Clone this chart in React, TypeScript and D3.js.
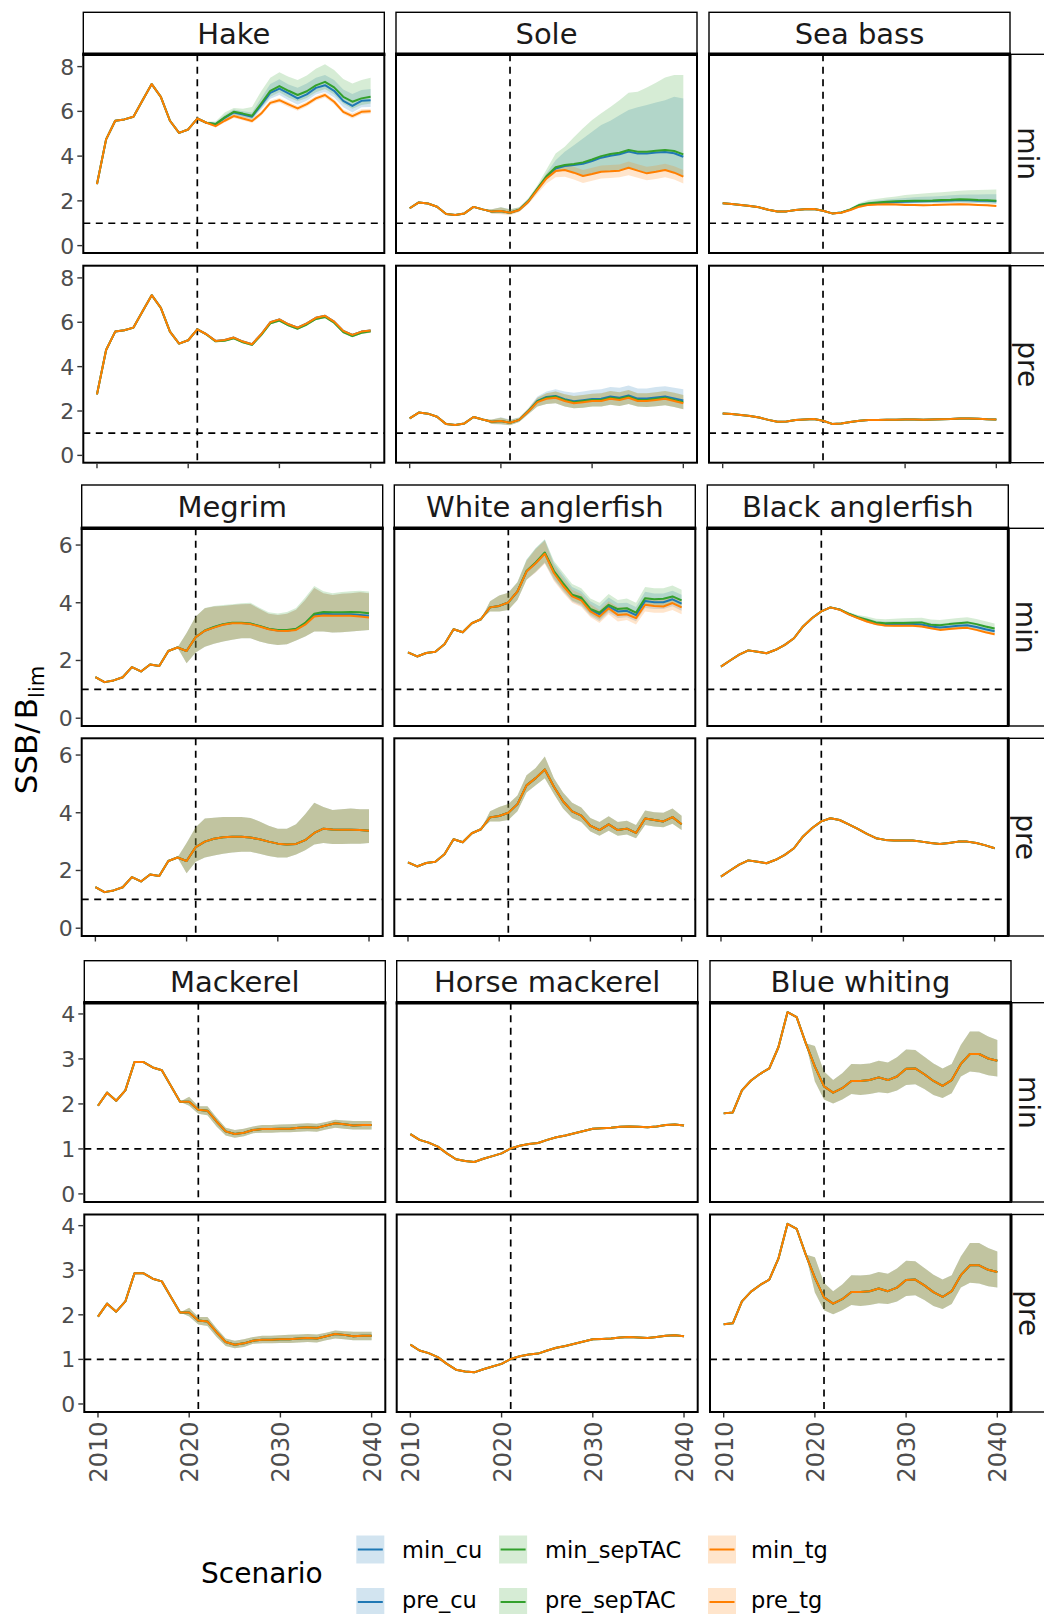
import React from "react";
import * as d3 from "d3";

// ---------------- data ----------------
const X_TICKS = [2010, 2020, 2030, 2040];
const VLINE_YEAR = 2021;
const HLINE_VALUE = 1;
const SCENARIOS = ["cu", "sepTAC", "tg"];
const SCEN_COLORS = ["#1F78B4", "#33A02C", "#FF7F00"];
const ROW_LABELS = ["min", "pre"];
const LEGEND_LABELS = [
  ["min_cu", "min_sepTAC", "min_tg"],
  ["pre_cu", "pre_sepTAC", "pre_tg"],
];

// Hake (hist 2010-2020, projections 2021-2040)
const hakeHist = [2.75, 4.75, 5.58, 5.64, 5.76, 6.5, 7.22, 6.65, 5.58, 5.04, 5.19];
const hakeMinTgMed = [5.68, 5.49, 5.34, 5.58, 5.79, 5.68, 5.57, 5.9, 6.38, 6.5, 6.31, 6.13, 6.32, 6.58, 6.73, 6.43, 5.98, 5.79, 5.98, 6.01];
const hakeMinTgLo = [5.68, 5.45, 5.28, 5.5, 5.7, 5.6, 5.48, 5.8, 6.28, 6.4, 6.2, 6.03, 6.22, 6.47, 6.62, 6.32, 5.88, 5.68, 5.87, 5.9];
const hakeMinTgHi = [5.68, 5.53, 5.4, 5.66, 5.88, 5.77, 5.66, 6.0, 6.48, 6.6, 6.42, 6.24, 6.43, 6.69, 6.84, 6.54, 6.08, 5.9, 6.09, 6.12];
const hakeMinSepMed = [5.68, 5.49, 5.43, 5.73, 5.98, 5.9, 5.8, 6.35, 6.92, 7.13, 6.92, 6.73, 6.9, 7.16, 7.32, 7.07, 6.65, 6.43, 6.58, 6.65];
const hakeMinSepLo = [5.68, 5.45, 5.36, 5.62, 5.85, 5.76, 5.66, 6.15, 6.65, 6.85, 6.62, 6.45, 6.6, 6.85, 7.0, 6.75, 6.35, 6.12, 6.28, 6.35];
const hakeMinSepHi = [5.68, 5.55, 5.55, 5.95, 6.15, 6.12, 6.2, 6.9, 7.5, 7.75, 7.55, 7.4, 7.6, 7.9, 8.1, 7.85, 7.45, 7.25, 7.4, 7.5];
const hakeMinCuMed = [5.68, 5.49, 5.42, 5.71, 5.95, 5.86, 5.76, 6.28, 6.83, 7.02, 6.8, 6.58, 6.76, 7.05, 7.17, 6.92, 6.47, 6.24, 6.47, 6.5];
const hakeMinCuLo = [5.68, 5.45, 5.35, 5.6, 5.83, 5.72, 5.62, 6.08, 6.56, 6.73, 6.5, 6.3, 6.47, 6.75, 6.87, 6.62, 6.18, 5.95, 6.18, 6.2];
const hakeMinCuHi = [5.68, 5.53, 5.5, 5.84, 6.08, 6.0, 5.95, 6.6, 7.22, 7.43, 7.2, 7.05, 7.25, 7.5, 7.62, 7.4, 6.98, 6.78, 6.95, 7.0];
const hakePreTgMed = [5.68, 5.46, 5.16, 5.2, 5.31, 5.13, 5.01, 5.46, 6.0, 6.13, 5.91, 5.76, 5.95, 6.2, 6.29, 6.03, 5.61, 5.43, 5.58, 5.63];
const hakePreSepMed = [5.68, 5.45, 5.14, 5.17, 5.28, 5.1, 4.98, 5.42, 5.95, 6.08, 5.86, 5.71, 5.9, 6.15, 6.24, 5.98, 5.56, 5.38, 5.53, 5.59];
const hakePreLo = [5.68, 5.42, 5.1, 5.13, 5.23, 5.05, 4.93, 5.37, 5.9, 6.03, 5.81, 5.66, 5.85, 6.1, 6.19, 5.93, 5.51, 5.33, 5.48, 5.53];
const hakePreHi = [5.68, 5.5, 5.2, 5.24, 5.35, 5.17, 5.05, 5.5, 6.04, 6.17, 5.95, 5.8, 5.99, 6.24, 6.33, 6.07, 5.65, 5.47, 5.62, 5.67];

// Sole (hist 2010-2017, projections 2018-2040)
const soleHist = [1.67, 1.93, 1.88, 1.74, 1.41, 1.37, 1.44, 1.73];
const soleMinTgMed = [1.62, 1.52, 1.55, 1.47, 1.59, 1.96, 2.49, 3.0, 3.33, 3.38, 3.26, 3.11, 3.2, 3.3, 3.32, 3.35, 3.48, 3.35, 3.23, 3.3, 3.38, 3.26, 3.08];
const soleMinTgLo = [1.62, 1.42, 1.4, 1.36, 1.5, 1.85, 2.32, 2.78, 3.05, 3.08, 2.96, 2.8, 2.9, 3.0, 3.02, 3.05, 3.15, 3.03, 2.92, 2.98, 3.05, 2.95, 2.78];
const soleMinTgHi = [1.62, 1.62, 1.7, 1.6, 1.7, 2.06, 2.65, 3.2, 3.55, 3.62, 3.52, 3.38, 3.48, 3.58, 3.6, 3.63, 3.76, 3.64, 3.52, 3.58, 3.66, 3.55, 3.38];
const soleMinSepMed = [1.62, 1.52, 1.55, 1.47, 1.6, 1.98, 2.55, 3.1, 3.5, 3.6, 3.65, 3.72, 3.85, 4.0, 4.09, 4.15, 4.27, 4.2, 4.2, 4.24, 4.27, 4.23, 4.08];
const soleMinSepLo = [1.62, 1.45, 1.45, 1.4, 1.52, 1.88, 2.42, 2.95, 3.3, 3.38, 3.28, 3.14, 3.22, 3.32, 3.35, 3.38, 3.5, 3.38, 3.26, 3.32, 3.4, 3.28, 3.1];
const soleMinSepHi = [1.62, 1.62, 1.72, 1.62, 1.72, 2.12, 2.7, 3.4, 4.12, 4.42, 4.84, 5.24, 5.61, 5.91, 6.2, 6.5, 6.83, 6.88, 7.07, 7.28, 7.51, 7.62, 7.62];
const soleMinCuMed = [1.62, 1.52, 1.55, 1.47, 1.6, 1.97, 2.53, 3.07, 3.45, 3.56, 3.6, 3.66, 3.78, 3.93, 4.02, 4.08, 4.2, 4.12, 4.12, 4.16, 4.18, 4.13, 3.97];
const soleMinCuLo = [1.62, 1.45, 1.45, 1.4, 1.52, 1.88, 2.4, 2.93, 3.28, 3.36, 3.26, 3.12, 3.2, 3.3, 3.33, 3.36, 3.48, 3.36, 3.24, 3.3, 3.38, 3.26, 3.08];
const soleMinCuHi = [1.62, 1.62, 1.72, 1.62, 1.7, 2.1, 2.62, 3.23, 3.82, 4.2, 4.49, 4.79, 5.09, 5.39, 5.58, 5.83, 6.06, 6.18, 6.28, 6.4, 6.5, 6.65, 6.58];
const solePreTgMed = [1.62, 1.52, 1.55, 1.47, 1.6, 1.98, 2.4, 2.55, 2.6, 2.45, 2.35, 2.4, 2.45, 2.45, 2.55, 2.5, 2.6, 2.45, 2.45, 2.5, 2.55, 2.45, 2.35];
const solePreSepMed = [1.62, 1.52, 1.55, 1.47, 1.6, 1.99, 2.43, 2.6, 2.65, 2.5, 2.4, 2.45, 2.5, 2.5, 2.6, 2.55, 2.65, 2.5, 2.5, 2.55, 2.6, 2.5, 2.4];
const solePreCuMed = [1.62, 1.52, 1.55, 1.47, 1.6, 1.99, 2.45, 2.63, 2.68, 2.53, 2.44, 2.49, 2.54, 2.55, 2.65, 2.6, 2.7, 2.56, 2.56, 2.61, 2.66, 2.57, 2.47];
const solePreLo = [1.62, 1.42, 1.4, 1.36, 1.5, 1.85, 2.2, 2.32, 2.35, 2.2, 2.12, 2.15, 2.2, 2.2, 2.28, 2.23, 2.32, 2.2, 2.18, 2.22, 2.26, 2.18, 2.08];
const solePreHi = [1.62, 1.62, 1.7, 1.6, 1.7, 2.1, 2.6, 2.8, 2.88, 2.75, 2.68, 2.72, 2.78, 2.8, 2.9, 2.85, 2.95, 2.8, 2.8, 2.85, 2.9, 2.82, 2.72];
const solePreCuHi = [1.62, 1.62, 1.72, 1.62, 1.72, 2.12, 2.65, 2.88, 2.98, 2.88, 2.82, 2.88, 2.95, 2.98, 3.08, 3.05, 3.15, 3.02, 3.02, 3.08, 3.12, 3.05, 2.98];

// Sea bass (hist 2010-2020, projections 2021-2040)
const seabassHist = [1.89, 1.86, 1.82, 1.77, 1.71, 1.6, 1.52, 1.53, 1.59, 1.62, 1.64];
const seabassMinTgMed = [1.56, 1.44, 1.47, 1.59, 1.74, 1.82, 1.84, 1.85, 1.84, 1.82, 1.81, 1.8, 1.81, 1.83, 1.84, 1.85, 1.84, 1.82, 1.8, 1.77];
const seabassMinTgLo = [1.56, 1.42, 1.45, 1.56, 1.7, 1.78, 1.8, 1.81, 1.8, 1.78, 1.77, 1.76, 1.77, 1.79, 1.8, 1.81, 1.8, 1.78, 1.76, 1.73];
const seabassMinTgHi = [1.56, 1.46, 1.5, 1.62, 1.78, 1.87, 1.89, 1.9, 1.89, 1.87, 1.86, 1.85, 1.86, 1.88, 1.89, 1.9, 1.89, 1.87, 1.85, 1.82];
const seabassMinSepMed = [1.56, 1.44, 1.48, 1.62, 1.82, 1.89, 1.93, 1.96, 1.98, 1.99, 2.0, 2.01, 2.02, 2.04, 2.05, 2.07, 2.06, 2.04, 2.03, 2.01];
const seabassMinSepLo = [1.56, 1.42, 1.45, 1.58, 1.76, 1.82, 1.85, 1.87, 1.88, 1.89, 1.9, 1.9, 1.91, 1.92, 1.93, 1.94, 1.93, 1.92, 1.9, 1.88];
const seabassMinSepHi = [1.56, 1.46, 1.52, 1.68, 1.9, 2.04, 2.1, 2.15, 2.2, 2.26, 2.3, 2.33, 2.36, 2.38, 2.42, 2.45, 2.47, 2.49, 2.5, 2.51];
const seabassMinCuMed = [1.56, 1.44, 1.48, 1.61, 1.8, 1.86, 1.9, 1.93, 1.95, 1.96, 1.97, 1.98, 1.99, 2.01, 2.02, 2.04, 2.03, 2.01, 2.0, 1.98];
const seabassMinCuLo = [1.56, 1.42, 1.45, 1.57, 1.74, 1.8, 1.83, 1.85, 1.86, 1.87, 1.88, 1.88, 1.89, 1.9, 1.91, 1.92, 1.91, 1.9, 1.88, 1.86];
const seabassMinCuHi = [1.56, 1.46, 1.51, 1.66, 1.87, 1.97, 2.02, 2.06, 2.1, 2.13, 2.16, 2.18, 2.2, 2.22, 2.25, 2.27, 2.28, 2.29, 2.3, 2.3];
const seabassPreMed = [1.56, 1.42, 1.44, 1.5, 1.56, 1.59, 1.6, 1.61, 1.61, 1.62, 1.62, 1.61, 1.62, 1.63, 1.64, 1.66, 1.66, 1.65, 1.63, 1.62];
const seabassPreLo = [1.56, 1.4, 1.41, 1.47, 1.53, 1.56, 1.57, 1.58, 1.58, 1.59, 1.59, 1.58, 1.59, 1.6, 1.61, 1.63, 1.63, 1.62, 1.6, 1.59];
const seabassPreHi = [1.56, 1.44, 1.47, 1.53, 1.59, 1.62, 1.63, 1.64, 1.64, 1.65, 1.65, 1.64, 1.65, 1.66, 1.67, 1.69, 1.69, 1.68, 1.66, 1.65];

// Megrim (hist 2010-2018, projections 2019-2040)
const megrimHist = [1.42, 1.25, 1.31, 1.42, 1.77, 1.62, 1.86, 1.81, 2.33];
const megrimMinTgMed = [2.45, 2.33, 2.81, 3.03, 3.14, 3.24, 3.29, 3.29, 3.26, 3.18, 3.08, 3.03, 3.02, 3.06, 3.24, 3.52, 3.56, 3.55, 3.55, 3.55, 3.52, 3.49];
const megrimMinCuMed = [2.45, 2.33, 2.81, 3.03, 3.15, 3.25, 3.3, 3.3, 3.27, 3.19, 3.09, 3.04, 3.03, 3.08, 3.27, 3.58, 3.62, 3.6, 3.6, 3.6, 3.58, 3.55];
const megrimMinSepMed = [2.45, 2.33, 2.81, 3.04, 3.16, 3.26, 3.31, 3.31, 3.28, 3.2, 3.1, 3.06, 3.06, 3.1, 3.3, 3.62, 3.68, 3.67, 3.67, 3.68, 3.67, 3.64];
const megrimMinLo = [2.45, 1.9, 2.28, 2.48, 2.58, 2.66, 2.72, 2.77, 2.77, 2.66, 2.58, 2.54, 2.56, 2.69, 2.83, 3.0, 3.0, 2.97, 2.98, 3.0, 3.03, 3.06];
const megrimMinHi = [2.45, 2.95, 3.52, 3.81, 3.87, 3.89, 3.92, 3.95, 3.96, 3.78, 3.62, 3.58, 3.62, 3.76, 4.1, 4.51, 4.33, 4.27, 4.31, 4.33, 4.36, 4.33];
const megrimMinSepHi = [2.45, 2.95, 3.52, 3.82, 3.89, 3.92, 3.95, 3.98, 4.0, 3.83, 3.67, 3.63, 3.68, 3.82, 4.18, 4.58, 4.4, 4.33, 4.37, 4.4, 4.42, 4.39];
const megrimPreMed = [2.45, 2.33, 2.81, 3.0, 3.1, 3.15, 3.17, 3.17, 3.14, 3.08, 3.0, 2.93, 2.9, 2.92, 3.05, 3.3, 3.45, 3.42, 3.41, 3.41, 3.4, 3.38];
const megrimPreLo = [2.45, 1.9, 2.3, 2.45, 2.52, 2.58, 2.62, 2.65, 2.65, 2.58, 2.5, 2.45, 2.45, 2.55, 2.7, 2.9, 2.95, 2.92, 2.92, 2.93, 2.93, 2.95];
const megrimPreHi = [2.45, 2.95, 3.5, 3.8, 3.83, 3.85, 3.85, 3.85, 3.82, 3.7, 3.55, 3.45, 3.45, 3.6, 3.95, 4.35, 4.2, 4.1, 4.12, 4.15, 4.12, 4.12];

// White anglerfish (hist 2010-2017, projections 2018-2040)
const whiteHist = [2.28, 2.14, 2.26, 2.3, 2.56, 3.08, 2.98, 3.29];
const whiteMinTgMed = [3.43, 3.84, 3.89, 4.01, 4.39, 5.08, 5.37, 5.7, 5.03, 4.59, 4.22, 4.08, 3.7, 3.52, 3.81, 3.58, 3.6, 3.47, 3.93, 3.89, 3.87, 3.99, 3.84];
const whiteMinTgLo = [3.43, 3.7, 3.7, 3.75, 4.1, 4.8, 5.05, 5.35, 4.75, 4.35, 4.0, 3.85, 3.5, 3.3, 3.6, 3.35, 3.4, 3.25, 3.7, 3.65, 3.65, 3.75, 3.6];
const whiteMinTgHi = [3.43, 4.05, 4.25, 4.35, 4.7, 5.45, 5.85, 6.15, 5.3, 4.85, 4.45, 4.3, 3.95, 3.75, 4.05, 3.85, 3.85, 3.7, 4.2, 4.15, 4.15, 4.25, 4.1];
const whiteMinSepMed = [3.43, 3.84, 3.89, 4.01, 4.39, 5.1, 5.4, 5.74, 5.1, 4.68, 4.28, 4.18, 3.79, 3.66, 3.93, 3.78, 3.81, 3.66, 4.16, 4.12, 4.14, 4.22, 4.08];
const whiteMinSepLo = [3.43, 3.7, 3.7, 3.75, 4.1, 4.8, 5.08, 5.4, 4.85, 4.45, 4.08, 3.95, 3.6, 3.42, 3.72, 3.55, 3.58, 3.45, 3.92, 3.88, 3.9, 3.98, 3.82];
const whiteMinSepHi = [3.43, 4.05, 4.25, 4.35, 4.72, 5.5, 5.9, 6.2, 5.45, 5.05, 4.65, 4.5, 4.15, 4.0, 4.3, 4.1, 4.15, 4.0, 4.55, 4.5, 4.5, 4.6, 4.45];
const whiteMinCuMed = [3.43, 3.84, 3.89, 4.01, 4.39, 5.09, 5.38, 5.72, 5.06, 4.63, 4.25, 4.13, 3.74, 3.6, 3.87, 3.7, 3.72, 3.57, 4.06, 4.02, 4.02, 4.12, 3.97];
const whiteMinCuLo = [3.43, 3.7, 3.7, 3.75, 4.1, 4.8, 5.06, 5.38, 4.8, 4.4, 4.04, 3.9, 3.55, 3.36, 3.66, 3.47, 3.5, 3.36, 3.82, 3.78, 3.78, 3.88, 3.72];
const whiteMinCuHi = [3.43, 4.05, 4.25, 4.35, 4.71, 5.48, 5.88, 6.18, 5.38, 4.95, 4.55, 4.4, 4.05, 3.88, 4.18, 3.98, 4.0, 3.85, 4.38, 4.32, 4.32, 4.42, 4.28];
const whitePreMed = [3.43, 3.84, 3.89, 4.0, 4.3, 4.95, 5.2, 5.5, 4.9, 4.4, 4.05, 3.9, 3.55, 3.4, 3.6, 3.4, 3.45, 3.3, 3.8, 3.75, 3.7, 3.85, 3.6];
const whitePreLo = [3.43, 3.7, 3.7, 3.75, 4.05, 4.7, 4.95, 5.2, 4.65, 4.15, 3.82, 3.68, 3.35, 3.2, 3.38, 3.2, 3.25, 3.12, 3.58, 3.52, 3.5, 3.62, 3.4];
const whitePreHi = [3.43, 4.05, 4.2, 4.3, 4.6, 5.3, 5.55, 5.95, 5.2, 4.7, 4.35, 4.18, 3.82, 3.68, 3.88, 3.68, 3.72, 3.58, 4.08, 4.02, 4.0, 4.15, 3.9];

// Black anglerfish (hist 2010-2020, projections 2021-2040)
const blackHist = [1.79, 2.0, 2.2, 2.35, 2.3, 2.25, 2.37, 2.54, 2.77, 3.18, 3.47];
const blackMinTgMed = [3.7, 3.84, 3.76, 3.6, 3.47, 3.35, 3.26, 3.21, 3.2, 3.2, 3.2, 3.18, 3.12, 3.06, 3.09, 3.12, 3.13, 3.06, 2.98, 2.91];
const blackMinTgLo = [3.7, 3.83, 3.74, 3.57, 3.43, 3.31, 3.22, 3.17, 3.16, 3.16, 3.16, 3.14, 3.08, 3.02, 3.05, 3.08, 3.09, 3.02, 2.94, 2.87];
const blackMinTgHi = [3.7, 3.85, 3.78, 3.63, 3.51, 3.39, 3.3, 3.25, 3.24, 3.24, 3.24, 3.22, 3.16, 3.1, 3.13, 3.16, 3.17, 3.1, 3.02, 2.95];
const blackMinSepMed = [3.7, 3.84, 3.77, 3.62, 3.5, 3.41, 3.32, 3.29, 3.3, 3.3, 3.31, 3.32, 3.24, 3.22, 3.26, 3.29, 3.32, 3.26, 3.18, 3.11];
const blackMinSepLo = [3.7, 3.83, 3.74, 3.57, 3.44, 3.33, 3.23, 3.19, 3.19, 3.19, 3.19, 3.18, 3.12, 3.09, 3.12, 3.15, 3.17, 3.11, 3.03, 2.97];
const blackMinSepHi = [3.7, 3.85, 3.8, 3.68, 3.58, 3.52, 3.45, 3.43, 3.45, 3.46, 3.47, 3.48, 3.42, 3.4, 3.44, 3.47, 3.5, 3.44, 3.36, 3.28];
const blackMinCuMed = [3.7, 3.84, 3.77, 3.61, 3.49, 3.38, 3.29, 3.25, 3.25, 3.25, 3.26, 3.25, 3.18, 3.14, 3.17, 3.2, 3.22, 3.16, 3.08, 3.01];
const blackMinCuLo = [3.7, 3.83, 3.74, 3.57, 3.44, 3.32, 3.22, 3.18, 3.18, 3.18, 3.18, 3.16, 3.1, 3.06, 3.09, 3.12, 3.14, 3.08, 3.0, 2.94];
const blackMinCuHi = [3.7, 3.85, 3.79, 3.66, 3.55, 3.46, 3.38, 3.35, 3.36, 3.36, 3.37, 3.37, 3.3, 3.27, 3.3, 3.33, 3.36, 3.3, 3.22, 3.14];
const blackPreMed = [3.7, 3.81, 3.75, 3.6, 3.44, 3.27, 3.12, 3.06, 3.04, 3.04, 3.04, 3.0, 2.95, 2.92, 2.95, 3.0, 3.0, 2.95, 2.87, 2.77];
const blackPreLo = [3.7, 3.79, 3.73, 3.58, 3.42, 3.25, 3.1, 3.04, 3.02, 3.02, 3.02, 2.98, 2.93, 2.9, 2.93, 2.98, 2.98, 2.93, 2.85, 2.75];
const blackPreHi = [3.7, 3.83, 3.77, 3.62, 3.46, 3.29, 3.14, 3.08, 3.06, 3.06, 3.06, 3.02, 2.97, 2.94, 2.97, 3.02, 3.02, 2.97, 2.89, 2.79];

// Mackerel (hist 2010-2018, projections 2019-2040)
const mackHist = [1.96, 2.25, 2.07, 2.3, 2.93, 2.93, 2.81, 2.75, 2.4];
const mackMed = [2.05, 2.05, 1.87, 1.85, 1.61, 1.39, 1.33, 1.36, 1.42, 1.44, 1.44, 1.45, 1.45, 1.47, 1.48, 1.47, 1.52, 1.57, 1.55, 1.52, 1.53, 1.53];
const mackLo = [2.05, 1.96, 1.78, 1.75, 1.5, 1.3, 1.25, 1.28, 1.35, 1.36, 1.36, 1.37, 1.37, 1.38, 1.39, 1.38, 1.43, 1.47, 1.45, 1.43, 1.43, 1.43];
const mackHi = [2.05, 2.16, 1.95, 1.95, 1.7, 1.47, 1.42, 1.45, 1.5, 1.53, 1.53, 1.54, 1.55, 1.56, 1.57, 1.56, 1.6, 1.65, 1.63, 1.62, 1.62, 1.62];

// Horse mackerel (hist 2010-2020, projections 2021-2040)
const horseHist = [1.33, 1.2, 1.14, 1.05, 0.9, 0.77, 0.73, 0.71, 0.78, 0.84, 0.9];
const horseMed = [1.01, 1.07, 1.11, 1.13, 1.2, 1.26, 1.3, 1.35, 1.4, 1.45, 1.46, 1.47, 1.49, 1.5, 1.49, 1.48, 1.5, 1.53, 1.54, 1.52];

// Blue whiting (hist 2010-2018, projections 2019-2040)
const bwHist = [1.79, 1.81, 2.3, 2.52, 2.67, 2.79, 3.26, 4.04, 3.93];
const bwMed = [3.35, 2.83, 2.39, 2.25, 2.35, 2.51, 2.51, 2.53, 2.59, 2.53, 2.61, 2.78, 2.79, 2.66, 2.51, 2.4, 2.53, 2.89, 3.11, 3.11, 3.01, 2.96];
const bwLo = [3.35, 2.5, 2.1, 2.01, 2.1, 2.22, 2.2, 2.22, 2.26, 2.24, 2.3, 2.42, 2.44, 2.33, 2.2, 2.13, 2.24, 2.61, 2.72, 2.7, 2.64, 2.61];
const bwHi = [3.35, 3.29, 2.72, 2.53, 2.68, 2.89, 2.88, 2.9, 2.96, 2.92, 3.04, 3.21, 3.2, 3.05, 2.9, 2.79, 2.89, 3.31, 3.61, 3.61, 3.5, 3.42];

// ---------------- tables built from the arrays ----------------
type Band = { med: number[]; lo: number[]; hi: number[] };
const mk = (med: number[], lo: number[], hi: number[]): Band => ({ med, lo, hi });

type Species = { start: number; hist: number[]; min: Band[]; pre: Band[] };

const SPECIES: Record<string, Species> = {
  Hake: {
    start: 2021, hist: hakeHist,
    min: [mk(hakeMinCuMed, hakeMinCuLo, hakeMinCuHi), mk(hakeMinSepMed, hakeMinSepLo, hakeMinSepHi), mk(hakeMinTgMed, hakeMinTgLo, hakeMinTgHi)],
    pre: [mk(hakePreTgMed, hakePreLo, hakePreHi), mk(hakePreSepMed, hakePreLo, hakePreHi), mk(hakePreTgMed, hakePreLo, hakePreHi)],
  },
  Sole: {
    start: 2018, hist: soleHist,
    min: [mk(soleMinCuMed, soleMinCuLo, soleMinCuHi), mk(soleMinSepMed, soleMinSepLo, soleMinSepHi), mk(soleMinTgMed, soleMinTgLo, soleMinTgHi)],
    pre: [mk(solePreCuMed, solePreLo, solePreCuHi), mk(solePreSepMed, solePreLo, solePreHi), mk(solePreTgMed, solePreLo, solePreHi)],
  },
  "Sea bass": {
    start: 2021, hist: seabassHist,
    min: [mk(seabassMinCuMed, seabassMinCuLo, seabassMinCuHi), mk(seabassMinSepMed, seabassMinSepLo, seabassMinSepHi), mk(seabassMinTgMed, seabassMinTgLo, seabassMinTgHi)],
    pre: [mk(seabassPreMed, seabassPreLo, seabassPreHi), mk(seabassPreMed, seabassPreLo, seabassPreHi), mk(seabassPreMed, seabassPreLo, seabassPreHi)],
  },
  Megrim: {
    start: 2019, hist: megrimHist,
    min: [mk(megrimMinCuMed, megrimMinLo, megrimMinHi), mk(megrimMinSepMed, megrimMinLo, megrimMinSepHi), mk(megrimMinTgMed, megrimMinLo, megrimMinHi)],
    pre: [mk(megrimPreMed, megrimPreLo, megrimPreHi), mk(megrimPreMed, megrimPreLo, megrimPreHi), mk(megrimPreMed, megrimPreLo, megrimPreHi)],
  },
  "White anglerfish": {
    start: 2018, hist: whiteHist,
    min: [mk(whiteMinCuMed, whiteMinCuLo, whiteMinCuHi), mk(whiteMinSepMed, whiteMinSepLo, whiteMinSepHi), mk(whiteMinTgMed, whiteMinTgLo, whiteMinTgHi)],
    pre: [mk(whitePreMed, whitePreLo, whitePreHi), mk(whitePreMed, whitePreLo, whitePreHi), mk(whitePreMed, whitePreLo, whitePreHi)],
  },
  "Black anglerfish": {
    start: 2021, hist: blackHist,
    min: [mk(blackMinCuMed, blackMinCuLo, blackMinCuHi), mk(blackMinSepMed, blackMinSepLo, blackMinSepHi), mk(blackMinTgMed, blackMinTgLo, blackMinTgHi)],
    pre: [mk(blackPreMed, blackPreLo, blackPreHi), mk(blackPreMed, blackPreLo, blackPreHi), mk(blackPreMed, blackPreLo, blackPreHi)],
  },
  Mackerel: {
    start: 2019, hist: mackHist,
    min: [mk(mackMed, mackLo, mackHi), mk(mackMed, mackLo, mackHi), mk(mackMed, mackLo, mackHi)],
    pre: [mk(mackMed, mackLo, mackHi), mk(mackMed, mackLo, mackHi), mk(mackMed, mackLo, mackHi)],
  },
  "Horse mackerel": {
    start: 2021, hist: horseHist,
    min: [mk(horseMed, horseMed, horseMed), mk(horseMed, horseMed, horseMed), mk(horseMed, horseMed, horseMed)],
    pre: [mk(horseMed, horseMed, horseMed), mk(horseMed, horseMed, horseMed), mk(horseMed, horseMed, horseMed)],
  },
  "Blue whiting": {
    start: 2019, hist: bwHist,
    min: [mk(bwMed, bwLo, bwHi), mk(bwMed, bwLo, bwHi), mk(bwMed, bwLo, bwHi)],
    pre: [mk(bwMed, bwLo, bwHi), mk(bwMed, bwLo, bwHi), mk(bwMed, bwLo, bwHi)],
  },
};

// ---------------- layout ----------------
const W = 1044;
const H = 1614;
const PANEL_W = 301;
const X_DOMAIN = [2008.5, 2041.5];
const FONT = "'DejaVu Sans', Verdana, sans-serif";

const FIGS = [
  {
    names: ["Hake", "Sole", "Sea bass"], colX: [83.3, 396, 709], strip: [12.3, 54.3],
    rows: [[54.3, 253], [265.7, 462.7]], yDomain: [-0.33, 8.55], yTicks: [0, 2, 4, 6, 8], xLabels: false,
  },
  {
    names: ["Megrim", "White anglerfish", "Black anglerfish"], colX: [81.7, 394.3, 707.3], strip: [485, 528.3],
    rows: [[528.3, 726], [738.3, 936]], yDomain: [-0.27, 6.58], yTicks: [0, 2, 4, 6], xLabels: false,
  },
  {
    names: ["Mackerel", "Horse mackerel", "Blue whiting"], colX: [84.3, 396.7, 710], strip: [960.7, 1002.7],
    rows: [[1002.7, 1202], [1214.5, 1412]], yDomain: [-0.18, 4.25], yTicks: [0, 1, 2, 3, 4], xLabels: true,
  },
];

function Panel({ sp, rowIdx, x0, y0, y1, yDomain }: any) {
  const s = SPECIES[sp];
  const x = d3.scaleLinear().domain(X_DOMAIN).range([x0, x0 + PANEL_W]);
  const y = d3.scaleLinear().domain(yDomain).range([y1, y0]);
  const bands: Band[] = rowIdx === 0 ? s.min : s.pre;
  const histYears = s.hist.map((_, i) => 2010 + i);
  const line = d3
    .line<[number, number]>()
    .x((d) => x(d[0]))
    .y((d) => y(d[1]));
  return (
    <g>
      <rect x={x0} y={y0} width={PANEL_W} height={y1 - y0} fill="#fff" />
      <line x1={x0} x2={x0 + PANEL_W} y1={y(HLINE_VALUE)} y2={y(HLINE_VALUE)} stroke="#000" strokeWidth={1.7} strokeDasharray="7,5.5" />
      <line x1={x(VLINE_YEAR)} x2={x(VLINE_YEAR)} y1={y0} y2={y1} stroke="#000" strokeWidth={1.7} strokeDasharray="7,5.5" />
      {bands.map((b, k) => {
        const ar = d3
          .area<number>()
          .x((_, i) => x(s.start + i))
          .y0((_, i) => y(b.lo[i]))
          .y1((_, i) => y(b.hi[i]));
        return <path key={"r" + k} d={ar(b.med) || ""} fill={SCEN_COLORS[k]} fillOpacity={0.2} stroke="none" />;
      })}
      {bands.map((b, k) => {
        const pts: [number, number][] = histYears
          .map((yr, i) => [yr, s.hist[i]] as [number, number])
          .concat(b.med.map((v, i) => [s.start + i, v] as [number, number]));
        return (
          <path key={"l" + k} d={line(pts) || ""} fill="none" stroke={SCEN_COLORS[k]} strokeWidth={2} strokeLinejoin="round" />
        );
      })}
      <rect x={x0} y={y0} width={PANEL_W} height={y1 - y0} fill="none" stroke="#000" strokeWidth={2} />
    </g>
  );
}

function Figure({ fig }: any) {
  const out: any[] = [];
  const [sTop, sBot] = fig.strip;
  fig.names.forEach((name: string, c: number) => {
    const x0 = fig.colX[c];
    out.push(
      <g key={"strip" + c}>
        <rect x={x0} y={sTop} width={PANEL_W} height={sBot - sTop} fill="#fff" stroke="#000" strokeWidth={1.4} />
        <text x={x0 + PANEL_W / 2} y={(sTop + sBot) / 2 + 10.5} textAnchor="middle" fontSize={29} fill="#1A1A1A" fontFamily={FONT}>
          {name}
        </text>
      </g>
    );
    fig.rows.forEach((r: number[], ri: number) => {
      out.push(<Panel key={"p" + c + "_" + ri} sp={name} rowIdx={ri} x0={x0} y0={r[0]} y1={r[1]} yDomain={fig.yDomain} />);
    });
    out.push(<line key={"sl" + c} x1={x0 - 1} x2={x0 + PANEL_W + 1} y1={sBot} y2={sBot} stroke="#000" strokeWidth={3.5} />);
    const x = d3.scaleLinear().domain(X_DOMAIN).range([x0, x0 + PANEL_W]);
    const yb = fig.rows[1][1];
    X_TICKS.forEach((t) => {
      out.push(<line key={"xt" + c + t} x1={x(t)} x2={x(t)} y1={yb + 1} y2={yb + 5.5} stroke="#333" strokeWidth={1.4} />);
      if (fig.xLabels) {
        out.push(
          <text key={"xl" + c + t} transform={`translate(${x(t) + 9},${yb + 9.5}) rotate(-90)`} textAnchor="end" fontSize={24} fill="#4D4D4D" fontFamily={FONT}>
            {t}
          </text>
        );
      }
    });
  });
  fig.rows.forEach((r: number[], ri: number) => {
    const y = d3.scaleLinear().domain(fig.yDomain).range([r[1], r[0]]);
    const x0 = fig.colX[0];
    fig.yTicks.forEach((t: number) => {
      out.push(<line key={"yt" + ri + t} x1={x0 - 6} x2={x0 - 1} y1={y(t)} y2={y(t)} stroke="#333" strokeWidth={1.4} />);
      out.push(
        <text key={"yl" + ri + t} x={x0 - 9} y={y(t) + 8} textAnchor="end" fontSize={22} fill="#4D4D4D" fontFamily={FONT}>
          {t}
        </text>
      );
    });
    const xr = fig.colX[2] + PANEL_W;
    out.push(
      <g key={"rs" + ri}>
        <rect x={xr} y={r[0]} width={46} height={r[1] - r[0]} fill="#fff" stroke="#000" strokeWidth={1.4} />
        <line x1={xr} x2={xr} y1={r[0]} y2={r[1]} stroke="#000" strokeWidth={3} />
        <text transform={`translate(${xr + 8},${(r[0] + r[1]) / 2}) rotate(90)`} textAnchor="middle" fontSize={28} fill="#1A1A1A" fontFamily={FONT}>
          {ROW_LABELS[ri]}
        </text>
      </g>
    );
  });
  return <g>{out}</g>;
}

function Legend() {
  const keyX = [356.3, 499.1, 708];
  const labX = [402, 545, 751];
  const keyY = [1535.5, 1588];
  const labY = [1558, 1607.5];
  return (
    <g fontFamily={FONT}>
      <text x={201} y={1583} fontSize={28} fill="#000">
        Scenario
      </text>
      {LEGEND_LABELS.map((row, ri) =>
        row.map((lab, ci) => (
          <g key={lab}>
            <rect x={keyX[ci]} y={keyY[ri]} width={28} height={28} fill={SCEN_COLORS[ci]} fillOpacity={0.2} />
            <line x1={keyX[ci] + 1.5} x2={keyX[ci] + 26.5} y1={keyY[ri] + 14} y2={keyY[ri] + 14} stroke={SCEN_COLORS[ci]} strokeWidth={2} />
            <text x={labX[ci]} y={labY[ri]} fontSize={22.5} fill="#000">
              {lab}
            </text>
          </g>
        ))
      )}
    </g>
  );
}

export default function App() {
  return (
    <svg width={W} height={H} viewBox={`0 0 ${W} ${H}`} style={{ position: "absolute", left: 0, top: 0, background: "#fff" }}>
      <rect x={0} y={0} width={W} height={H} fill="#fff" />
      {FIGS.map((f, i) => (
        <Figure key={i} fig={f} />
      ))}
      <text transform="translate(37,730) rotate(-90)" textAnchor="middle" fontSize={31} fill="#000" fontFamily={FONT}>
        SSB/
        <tspan dx={4}>B</tspan>
        <tspan fontSize={21} dy={7}>
          lim
        </tspan>
      </text>
      <Legend />
    </svg>
  );
}
